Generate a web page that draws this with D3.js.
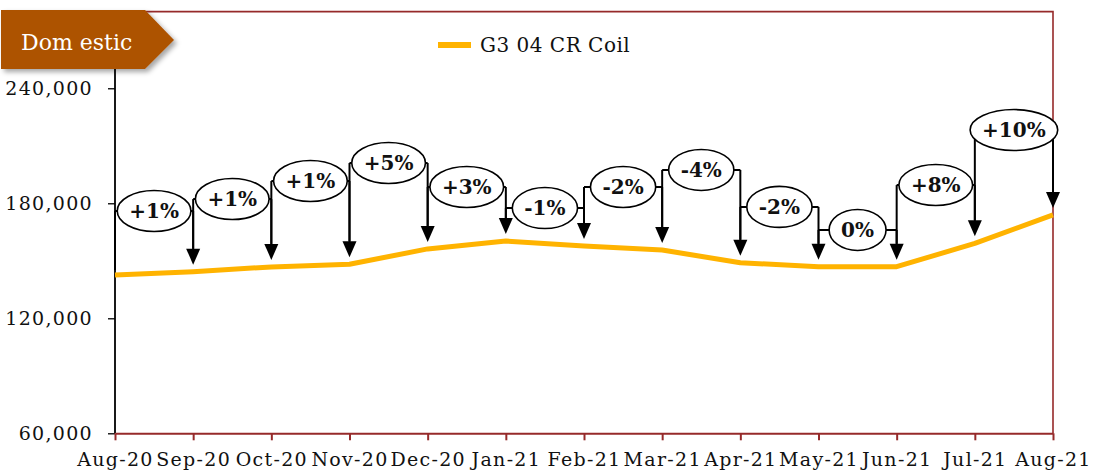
<!DOCTYPE html>
<html>
<head>
<meta charset="utf-8">
<script src="https://cdn.jsdelivr.net/npm/d3@7"></script>
<style>
  body { margin: 0; background: #fff; }
  svg { display: block; font-family: "DejaVu Serif", serif; }
</style>
</head>
<body>
<svg width="1094" height="474"></svg>
<script>
// chart data
var months = ["Aug-20", "Sep-20", "Oct-20", "Nov-20", "Dec-20", "Jan-21", "Feb-21",
              "Mar-21", "Apr-21", "May-21", "Jun-21", "Jul-21", "Aug-21"];
var coilPrice = [142600, 144300, 146800, 148200, 156200, 160300, 157700,
                 155600, 149000, 146900, 146900, 159100, 173900];
var changeLabels = ["+1%", "+1%", "+1%", "+5%", "+3%", "-1%",
                    "-2%", "-4%", "-2%", "0%", "+8%", "+10%"];
// height (in price units) where each month-on-month bubble sits
var labelLevels = [176000, 182200, 191600, 201000, 188500, 177500,
                   188500, 197400, 178100, 166100, 189500, 218200];
var yTicks = [60000, 120000, 180000, 240000];
var seriesName = "G3 04 CR Coil";
var badgeText = "Dom estic";

var frameColor = "#962a2a",
    lineColor = "#FFB300",
    badgeColor = "#AD5200";

var svg = d3.select("svg");
var margin = {top: 11.6, left: 115, right: 41, bottom: 40.7};
var width = 1094 - margin.left - margin.right,
    height = 474 - margin.top - margin.bottom;

var xScale = d3.scalePoint().domain(months).range([margin.left, margin.left + width]);
var yScale = d3.scaleLinear().domain([60000, 280000]).range([margin.top + height, margin.top]);

var defs = svg.append("defs");
var shadow = defs.append("filter").attr("id", "shadow")
    .attr("x", "-10%").attr("y", "-10%").attr("width", "130%").attr("height", "140%");
shadow.append("feDropShadow")
    .attr("dx", 3).attr("dy", 3).attr("stdDeviation", 2.5)
    .attr("flood-color", "#000").attr("flood-opacity", 0.35);

// frame: top + right in dark red
svg.append("path")
    .attr("d", "M" + margin.left + "," + margin.top + "H" + (margin.left + width) + "V" + (margin.top + height))
    .attr("fill", "none")
    .attr("stroke", frameColor)
    .attr("stroke-width", 1.6);

// axes
var yAxis = d3.axisLeft(yScale)
    .tickValues(yTicks)
    .tickFormat(d3.format(","))
    .tickSize(7)
    .tickSizeOuter(0)
    .tickPadding(15);
var gY = svg.append("g")
    .attr("transform", "translate(" + margin.left + ",0)")
    .call(yAxis);
gY.select(".domain").attr("d", "M0," + margin.top + "V" + (margin.top + height))
    .attr("stroke", "#000").attr("stroke-width", 1.8);
gY.selectAll(".tick line").attr("stroke", "#000").attr("stroke-width", 1.3);
gY.selectAll(".tick text")
    .attr("fill", "#111")
    .style("font-size", "19px")
    .style("letter-spacing", "1.3px")
    .style("font-family", "DejaVu Serif, serif");

var xAxis = d3.axisBottom(xScale).tickSize(7).tickSizeOuter(0).tickPadding(12);
var gX = svg.append("g")
    .attr("transform", "translate(0," + (margin.top + height) + ")")
    .call(xAxis);
gX.select(".domain").attr("stroke", frameColor).attr("stroke-width", 2);
gX.selectAll(".tick line").attr("stroke", frameColor).attr("stroke-width", 2);
gX.selectAll(".tick text")
    .attr("fill", "#111")
    .style("font-size", "19px")
    .style("letter-spacing", "1.3px")
    .style("font-family", "DejaVu Serif, serif");

// price line
var line = d3.line()
    .x(function(d, i) { return xScale(months[i]); })
    .y(function(d) { return yScale(d); });

svg.append("path")
    .datum(coilPrice)
    .attr("d", line)
    .attr("fill", "none")
    .attr("stroke", lineColor)
    .attr("stroke-width", 5)
    .attr("stroke-linejoin", "round");

// month-on-month brackets
var ann = svg.append("g").attr("class", "brackets");
var headH = 16, headW = 7, gap = 7;

changeLabels.forEach(function(lbl, i) {
  var x0 = xScale(months[i]),
      x1 = xScale(months[i + 1]),
      ly = yScale(labelLevels[i]),
      tip0 = yScale(coilPrice[i]) - gap,
      tip1 = yScale(coilPrice[i + 1]) - gap;

  var g = ann.append("g");
  // left leg
  g.append("line")
      .attr("x1", x0).attr("x2", x0)
      .attr("y1", ly).attr("y2", i === 0 ? tip0 + 2 : tip0 - headH)
      .attr("stroke", "#000").attr("stroke-width", 2);
  // top bar
  g.append("line")
      .attr("x1", x0).attr("x2", x1)
      .attr("y1", ly).attr("y2", ly)
      .attr("stroke", "#000").attr("stroke-width", 2);
  // arrow shaft + head
  g.append("line")
      .attr("x1", x1).attr("x2", x1)
      .attr("y1", ly).attr("y2", tip1 - headH + 1)
      .attr("stroke", "#000").attr("stroke-width", 2);
  g.append("path")
      .attr("d", "M" + (x1 - headW) + "," + (tip1 - headH) + "L" + (x1 + headW) + "," + (tip1 - headH) + "L" + x1 + "," + tip1 + "Z")
      .attr("fill", "#000");

  var ell = g.append("ellipse")
      .attr("cx", (x0 + x1) / 2)
      .attr("cy", ly)
      .attr("ry", 20.5)
      .attr("fill", "#fff")
      .attr("stroke", "#000")
      .attr("stroke-width", 1.6);
  var t = g.append("text")
      .attr("x", (x0 + x1) / 2)
      .attr("y", ly)
      .attr("dy", "0.36em")
      .attr("text-anchor", "middle")
      .style("font-size", "20px")
      .style("font-weight", "bold")
      .attr("fill", "#111")
      .text(lbl);
  var tw = t.node().getComputedTextLength();
  ell.attr("rx", tw / 2 + 12);
});

// legend
var legend = svg.append("g").attr("transform", "translate(438,45)");
legend.append("line")
    .attr("x1", 0).attr("x2", 33)
    .attr("stroke", lineColor).attr("stroke-width", 6);
legend.append("text")
    .attr("x", 42).attr("y", 0).attr("dy", "0.36em")
    .style("font-size", "20px")
    .style("letter-spacing", "0.5px")
    .attr("fill", "#111")
    .text(seriesName);

// badge
var badge = svg.append("g").attr("filter", "url(#shadow)");
badge.append("path")
    .attr("d", "M1,10H145L174,40L145,69H1Z")
    .attr("fill", badgeColor);
svg.append("text")
    .attr("x", 21).attr("y", 50)
    .style("font-size", "22px")
    .attr("fill", "#fff")
    .text(badgeText);
</script>
</body>
</html>
